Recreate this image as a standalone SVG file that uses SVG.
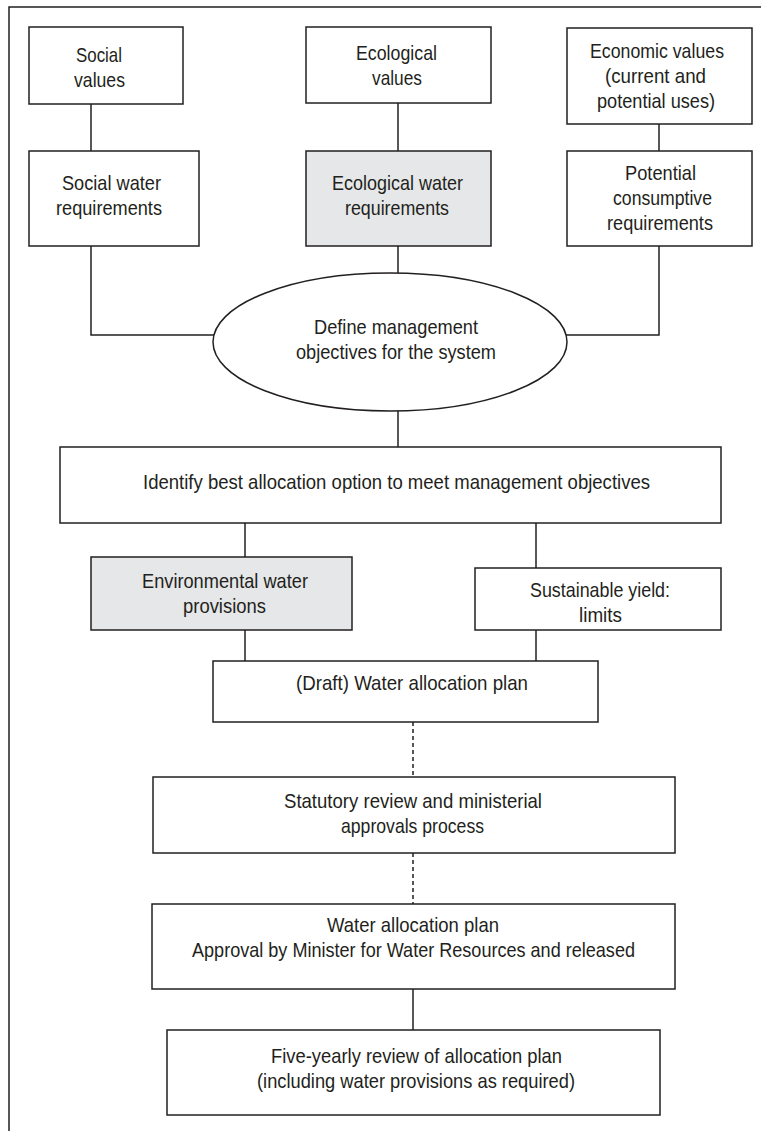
<svg xmlns="http://www.w3.org/2000/svg" width="761" height="1131" viewBox="0 0 761 1131">
<style>
.box{fill:#ffffff;stroke:#231f20;stroke-width:1.5}
.grey{fill:#e6e7e8}
.ln{fill:none;stroke:#231f20;stroke-width:1.5}
.dash{stroke-dasharray:4,3}
text{font-family:"Liberation Sans Narrow","Liberation Sans",Arial,sans-serif;font-size:21px;fill:#231f20;text-anchor:middle}
</style>
<rect x="0" y="0" width="761" height="1131" fill="#ffffff"/>
<path class="ln" d="M9,1131 V7 H761"/>
<g id="connectors">
<path class="ln" d="M91,104 V151"/>
<path class="ln" d="M398,103 V151"/>
<path class="ln" d="M659,124 V151"/>
<path class="ln" d="M91,246 V335 H214"/>
<path class="ln" d="M398,246 V273"/>
<path class="ln" d="M659,246 V335 H566"/>
<path class="ln" d="M398,411 V447"/>
<path class="ln" d="M245,523 V557"/>
<path class="ln" d="M536,523 V568"/>
<path class="ln" d="M245,630 V661"/>
<path class="ln" d="M536,630 V661"/>
<path class="ln dash" d="M413,722 V777"/>
<path class="ln dash" d="M413,853 V904"/>
<path class="ln" d="M413,989 V1030"/>
</g>
<g id="social-values">
<rect class="box" x="29" y="27" width="154" height="77"/>
<text x="99" y="62" textLength="46" lengthAdjust="spacingAndGlyphs">Social</text>
<text x="99.5" y="87" textLength="51" lengthAdjust="spacingAndGlyphs">values</text>
</g>
<g id="ecological-values">
<rect class="box" x="306" y="27" width="185" height="76"/>
<text x="396.5" y="60" textLength="81" lengthAdjust="spacingAndGlyphs">Ecological</text>
<text x="397" y="85" textLength="50" lengthAdjust="spacingAndGlyphs">values</text>
</g>
<g id="economic-values">
<rect class="box" x="567" y="28" width="185" height="96"/>
<text x="657" y="58" textLength="134" lengthAdjust="spacingAndGlyphs">Economic values</text>
<text x="655.5" y="83" textLength="101" lengthAdjust="spacingAndGlyphs">(current and</text>
<text x="656" y="108" textLength="118" lengthAdjust="spacingAndGlyphs">potential uses)</text>
</g>
<g id="social-water">
<rect class="box" x="29" y="151" width="170" height="95"/>
<text x="111.5" y="190" textLength="99" lengthAdjust="spacingAndGlyphs">Social water</text>
<text x="109" y="215" textLength="106" lengthAdjust="spacingAndGlyphs">requirements</text>
</g>
<g id="ecological-water">
<rect class="box grey" x="306" y="151" width="185" height="95"/>
<text x="397.5" y="190" textLength="131" lengthAdjust="spacingAndGlyphs">Ecological water</text>
<text x="397" y="215" textLength="104" lengthAdjust="spacingAndGlyphs">requirements</text>
</g>
<g id="potential-consumptive">
<rect class="box" x="567" y="151" width="185" height="95"/>
<text x="660.5" y="180" textLength="71" lengthAdjust="spacingAndGlyphs">Potential</text>
<text x="662.5" y="205" textLength="99" lengthAdjust="spacingAndGlyphs">consumptive</text>
<text x="660" y="230" textLength="106" lengthAdjust="spacingAndGlyphs">requirements</text>
</g>
<g id="define-objectives">
<ellipse class="box" cx="390" cy="342" rx="177" ry="69"/>
<text x="396" y="334" textLength="164" lengthAdjust="spacingAndGlyphs">Define management</text>
<text x="396" y="359" textLength="200" lengthAdjust="spacingAndGlyphs">objectives for the system</text>
</g>
<g id="identify-option">
<rect class="box" x="60" y="447" width="661" height="76"/>
<text x="396.5" y="489" textLength="507" lengthAdjust="spacingAndGlyphs">Identify best allocation option to meet management objectives</text>
</g>
<g id="environmental-provisions">
<rect class="box grey" x="91" y="557" width="261" height="73"/>
<text x="225" y="588" textLength="166" lengthAdjust="spacingAndGlyphs">Environmental water</text>
<text x="224.5" y="613" textLength="83" lengthAdjust="spacingAndGlyphs">provisions</text>
</g>
<g id="sustainable-yield">
<rect class="box" x="475" y="568" width="246" height="62"/>
<text x="600" y="597" textLength="140" lengthAdjust="spacingAndGlyphs">Sustainable yield:</text>
<text x="600.5" y="622" textLength="43" lengthAdjust="spacingAndGlyphs">limits</text>
</g>
<g id="draft-plan">
<rect class="box" x="213" y="661" width="385" height="61"/>
<text x="412" y="690" textLength="232" lengthAdjust="spacingAndGlyphs">(Draft) Water allocation plan</text>
</g>
<g id="statutory-review">
<rect class="box" x="153" y="777" width="522" height="76"/>
<text x="413" y="808" textLength="258" lengthAdjust="spacingAndGlyphs">Statutory review and ministerial</text>
<text x="412.5" y="833" textLength="143" lengthAdjust="spacingAndGlyphs">approvals process</text>
</g>
<g id="water-allocation-plan">
<rect class="box" x="152" y="904" width="523" height="85"/>
<text x="413" y="932" textLength="172" lengthAdjust="spacingAndGlyphs">Water allocation plan</text>
<text x="413.5" y="957" textLength="443" lengthAdjust="spacingAndGlyphs">Approval by Minister for Water Resources and released</text>
</g>
<g id="five-yearly-review">
<rect class="box" x="167" y="1030" width="493" height="85"/>
<text x="416.5" y="1063" textLength="291" lengthAdjust="spacingAndGlyphs">Five-yearly review of allocation plan</text>
<text x="416" y="1088" textLength="318" lengthAdjust="spacingAndGlyphs">(including water provisions as required)</text>
</g>
</svg>
